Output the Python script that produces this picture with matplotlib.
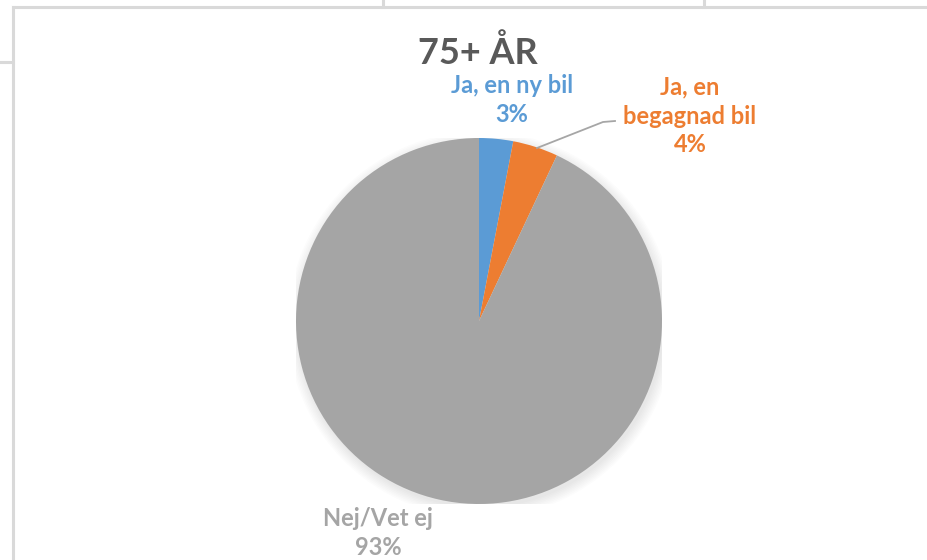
import matplotlib.pyplot as plt
from matplotlib.lines import Line2D
from matplotlib.patches import Circle

plt.rcParams['font.family'] = ['Lato', 'DejaVu Sans']

labels = ['Ja, en ny bil', 'Ja, en\nbegagnad bil', 'Nej/Vet ej']
shares = [3, 4, 93]
colors = ['#5B9BD5', '#ED7D31', '#A5A5A5']
title = '75+ ÅR'

W, H = 927, 560
fig = plt.figure(figsize=(W / 100, H / 100), dpi=100)
fig.patch.set_facecolor('white')

def fx(x):
    return x / W

def fy(y):
    return 1 - y / H

# spreadsheet cell borders behind the chart
grid = '#D9D9D9'
for x0, y0, x1, y1 in [(13, 7, W, 7), (13, 7, 13, H), (0, 62, 13, 62),
                       (383, 0, 383, 7), (704, 0, 704, 7)]:
    fig.add_artist(Line2D([fx(x0), fx(x1)], [fy(y0), fy(y1)], color=grid, lw=2.2))

# pie
cx, cy, r = 479, 321, 183
ax = fig.add_axes([fx(cx - r), fy(cy + r), 2 * r / W, 2 * r / H])
for i in range(8):
    ax.add_patch(Circle((0.01, -0.02), 1 + 0.008 * i, color='black', alpha=0.012, lw=0))
ax.pie(shares, colors=colors, startangle=90, counterclock=False, radius=1,
       wedgeprops=dict(linewidth=0))
ax.set_xlim(-1, 1)
ax.set_ylim(-1, 1)
ax.axis('off')

# title and labels
fig.text(fx(478), fy(53), title, ha='center', va='center', fontsize=26,
         fontweight='bold', color='#595959')
kw = dict(ha='center', va='center', fontsize=17, fontweight='bold', linespacing=1.3)
fig.text(fx(512), fy(100), labels[0] + '\n' + f'{shares[0]}%', color=colors[0], **kw)
fig.text(fx(690), fy(116), labels[1] + '\n' + f'{shares[1]}%', color=colors[1], **kw)
fig.text(fx(378), fy(533), labels[2] + '\n' + f'{shares[2]}%', color=colors[2], **kw)

fig.add_artist(Line2D([fx(615), fx(603), fx(537)], [fy(121), fy(122), fy(148)],
                      color='#A6A6A6', lw=1.3))

fig.savefig('out.png', dpi=100)
